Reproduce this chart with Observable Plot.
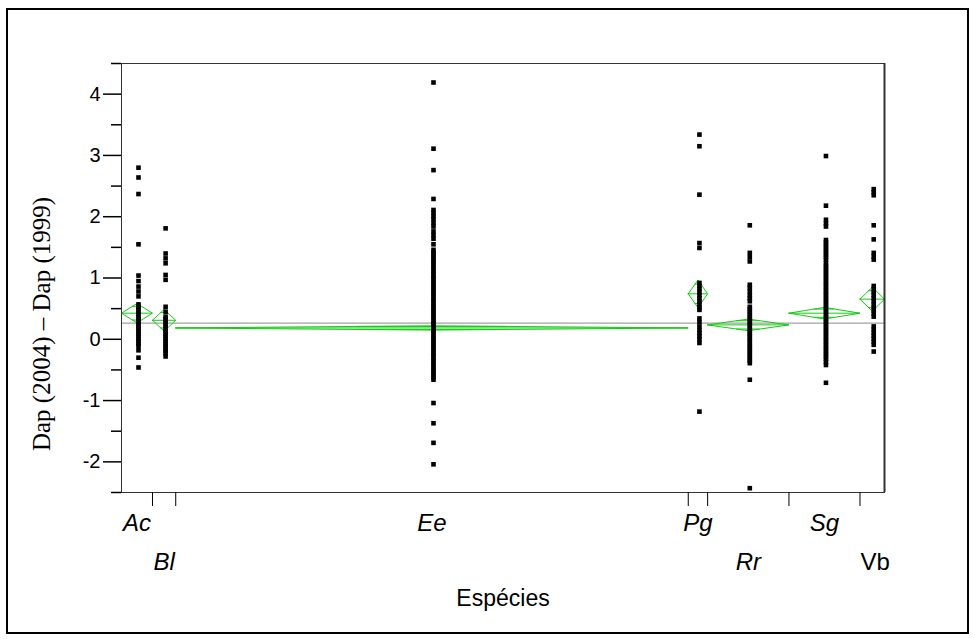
<!DOCTYPE html>
<html>
<head>
<meta charset="utf-8">
<script src="https://cdn.jsdelivr.net/npm/d3@7"></script>
<script src="https://cdn.jsdelivr.net/npm/@observablehq/plot@0.6"></script>
<style>
  html, body { margin: 0; padding: 0; background: white; }
  #wrap { position: relative; width: 975px; height: 639px; }
  #border { position: absolute; left: 6px; top: 8px; width: 963px; height: 626px; box-sizing: border-box; border: 2px solid #000; pointer-events: none; }
</style>
</head>
<body>
<div id="wrap"><div id="border"></div></div>
<script>
// ---- data ----
const species = ["Ac", "Bl", "Ee", "Pg", "Rr", "Sg", "Vb"];
const italicLabel = [true, true, true, true, true, true, false];
const labelRow = [1, 2, 1, 1, 2, 1, 2];
const sampleSize = [24, 18, 397, 15, 63, 55, 19];

const valuesAc = [2.80, 2.64, 2.37, 1.55, 1.04, 0.95, 0.86, 0.78, 0.70, 0.57, 0.53, 0.49, 0.45, 0.41, 0.37, 0.33, 0.29, 0.25, 0.21, 0.17, 0.13, 0.09, 0.05, 0.01, -0.03, -0.07, -0.11, -0.18, -0.30, -0.46];
const valuesBl = [1.81, 1.40, 1.32, 1.24, 1.05, 0.97, 0.53, 0.45, 0.37, 0.33, 0.29, 0.25, 0.21, 0.17, 0.13, 0.09, 0.05, 0.01, -0.03, -0.07, -0.11, -0.15, -0.19, -0.23, -0.28];
const valuesEe = [4.19, 3.11, 2.76, 2.29, 2.11, 2.06, 2.01, 1.96, 1.90, 1.84, 1.76, 1.70, 1.64, 1.55,
  1.46, 1.42, 1.38, 1.34, 1.30, 1.26, 1.22, 1.18, 1.14, 1.10, 1.06, 1.02, 0.98, 0.94, 0.90, 0.86, 0.82, 0.78, 0.74, 0.70,
  0.66, 0.62, 0.58, 0.54, 0.50, 0.46, 0.42, 0.38, 0.34, 0.30, 0.26, 0.22, 0.18, 0.14, 0.10, 0.06, 0.02, -0.02, -0.06,
  -0.10, -0.14, -0.18, -0.22, -0.26, -0.30, -0.34, -0.38, -0.42, -0.46, -0.50, -0.54, -0.58, -0.62, -0.66,
  -1.04, -1.37, -1.69, -2.04];
const valuesPg = [3.34, 3.15, 2.36, 1.57, 1.49, 0.92, 0.87, 0.82, 0.77, 0.72, 0.67, 0.62, 0.57, 0.52, 0.48, 0.34, 0.28, 0.21, 0.15, 0.10, 0.05, 0.00, -0.06, -1.18];
const valuesRr = [1.86, 1.41, 1.34, 1.27, 0.89, 0.84, 0.78, 0.72, 0.67, 0.62, 0.53, 0.49, 0.45, 0.41, 0.37, 0.33, 0.29, 0.25, 0.21, 0.17, 0.13, 0.09, 0.05, 0.01, -0.03, -0.07, -0.11, -0.15, -0.19, -0.23, -0.27, -0.31, -0.35, -0.39, -0.66, -2.43];
const valuesSg = [2.99, 2.18, 1.95, 1.89, 1.84, 1.62, 1.58, 1.54, 1.50, 1.46, 1.42, 1.38, 1.34, 1.30, 1.24, 1.20, 1.16, 1.12, 1.08, 1.04, 1.00, 0.96, 0.92, 0.88, 0.84, 0.80, 0.76, 0.72, 0.68, 0.64, 0.60, 0.56, 0.52, 0.48, 0.44, 0.40, 0.36, 0.32, 0.28, 0.24, 0.20, 0.16, 0.12, 0.08, 0.04, 0.00, -0.04, -0.08, -0.12, -0.16, -0.20, -0.24, -0.28, -0.32, -0.37, -0.42, -0.71];
const valuesVb = [2.45, 2.40, 2.35, 1.86, 1.63, 1.41, 1.35, 1.30, 0.87, 0.82, 0.77, 0.72, 0.67, 0.62, 0.57, 0.52, 0.47, 0.42, 0.37, 0.21, 0.16, 0.11, 0.06, 0.01, -0.04, -0.09, -0.20];
const valuesBySpecies = [valuesAc, valuesBl, valuesEe, valuesPg, valuesRr, valuesSg, valuesVb];

const groupMean = [0.426, 0.31, 0.185, 0.742, 0.235, 0.426, 0.655];
const ciHalf = [0.158, 0.177, 0.035, 0.225, 0.095, 0.095, 0.195];
const grandMean = 0.264;

const yMajorTicks = [-2, -1, 0, 1, 2, 3, 4];
const yMinorTicks = [-2.5, -1.5, -0.5, 0.5, 1.5, 2.5, 3.5, 4.5];
const yLabel = "Dap (2004) – Dap (1999)";
const xLabel = "Espécies";

// ---- derived layout in data units ----
const cum = d3.cumsum(sampleSize);
const total = cum[cum.length - 1];
const groups = species.map((s, i) => {
  const right = cum[i], left = right - sampleSize[i];
  return {s, i, left, right, center: (left + right) / 2, mean: groupMean[i], h: ciHalf[i],
          italic: italicLabel[i], row: labelRow[i]};
});
const innerBounds = groups.slice(0, -1).map(g => g.right);

const points = groups.flatMap(g => valuesBySpecies[g.i].map(v => ({x: g.center, y: v})));
const diamonds = groups.flatMap(g => [
  {s: g.s, x: g.left, y: g.mean},
  {s: g.s, x: g.center, y: g.mean + g.h},
  {s: g.s, x: g.right, y: g.mean},
  {s: g.s, x: g.center, y: g.mean - g.h},
  {s: g.s, x: g.left, y: g.mean}
]);
const k = Math.SQRT1_2;
const overlap = groups.flatMap(g => {
  const hw = (g.right - g.left) / 2 * (1 - k);
  return [
    {x1: g.center - hw, x2: g.center + hw, y: g.mean + g.h * k},
    {x1: g.center - hw, x2: g.center + hw, y: g.mean - g.h * k}
  ];
});

const green = "#14cc14";
const sans = "'Liberation Sans', Arial, sans-serif";

const chart = Plot.plot({
  width: 975,
  height: 639,
  marginLeft: 121,
  marginRight: 91,
  marginTop: 63,
  marginBottom: 147,
  style: {fontFamily: sans, background: "white", color: "black"},
  x: {domain: [0, total], axis: null},
  y: {domain: [-2.5, 4.5], axis: null},
  marks: [
    Plot.ruleY([grandMean], {stroke: "#8a8a8a", strokeWidth: 1}),
    Plot.line(diamonds, {x: "x", y: "y", z: "s", stroke: green, strokeWidth: 1}),
    Plot.ruleY(groups, {x1: "left", x2: "right", y: "mean", stroke: green, strokeWidth: 1}),
    Plot.ruleY(overlap, {x1: "x1", x2: "x2", y: "y", stroke: green, strokeWidth: 1}),
    Plot.dot(points, {x: "x", y: "y", symbol: "square", r: 2.6, fill: "black", stroke: null, dx: 1.5}),
    Plot.frame({stroke: "#333", strokeWidth: 1}),
    Plot.ruleX([total], {stroke: "#333", strokeWidth: 2}),
    Plot.axisY(yMajorTicks, {anchor: "left", tickSize: 18, tickPadding: 3, fontSize: 20, tickFormat: d => String(d), label: null, strokeWidth: 1.5}),
    Plot.axisY(yMinorTicks, {anchor: "left", tickSize: 10, fill: "none", label: null, strokeWidth: 1.5}),
    Plot.axisX(innerBounds, {anchor: "bottom", tickSize: 14, fill: "none", label: null}),
    Plot.text(groups.filter(g => g.row === 1), {x: "center", text: "s", frameAnchor: "bottom", dy: 38, fontSize: 24, fontStyle: "italic"}),
    Plot.text(groups.filter(g => g.row === 2 && g.italic), {x: "center", text: "s", frameAnchor: "bottom", dy: 77, fontSize: 24, fontStyle: "italic"}),
    Plot.text(groups.filter(g => g.row === 2 && !g.italic), {x: "center", text: "s", frameAnchor: "bottom", dy: 77, dx: 3, fontSize: 24}),
    Plot.text([xLabel], {frameAnchor: "bottom", dy: 113, fontSize: 23}),
    Plot.text([yLabel], {frameAnchor: "left", textAnchor: "middle", rotate: -90, dx: -80, dy: 46, fontSize: 25, fontFamily: "'Liberation Serif', 'Times New Roman', serif"})
  ]
});
document.getElementById("wrap").prepend(chart);
</script>
</body>
</html>
